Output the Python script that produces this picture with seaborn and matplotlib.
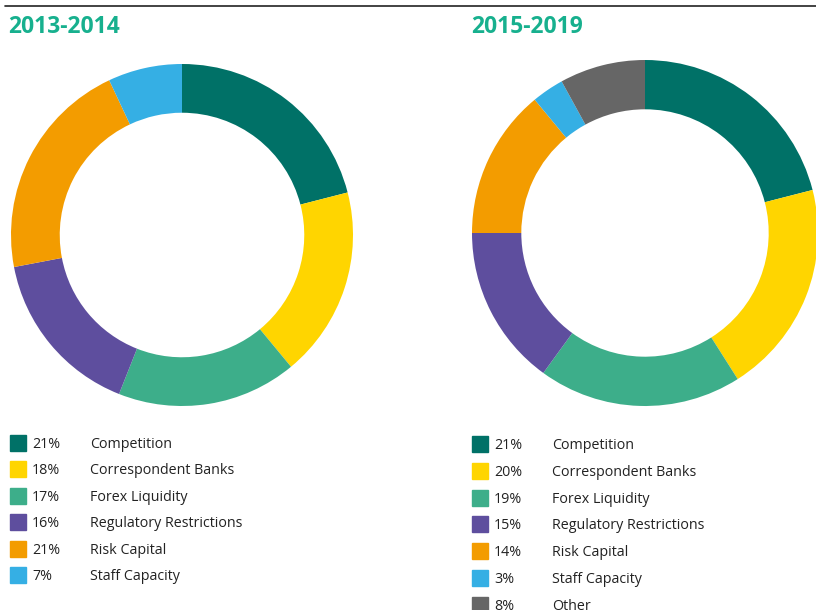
import matplotlib
matplotlib.use("Agg")
import matplotlib.pyplot as plt
import seaborn as sns
from matplotlib.patches import Rectangle
from matplotlib.lines import Line2D

sns.set_style("white")
plt.rcParams["font.family"] = ["Open Sans", "DejaVu Sans"]

# data
categories_a = ["Competition", "Correspondent Banks", "Forex Liquidity",
                "Regulatory Restrictions", "Risk Capital", "Staff Capacity"]
values_a = [21, 18, 17, 16, 21, 7]
categories_b = ["Competition", "Correspondent Banks", "Forex Liquidity",
                "Regulatory Restrictions", "Risk Capital", "Staff Capacity",
                "Other"]
values_b = [21, 20, 19, 15, 14, 3, 8]
titles = ["2013-2014", "2015-2019"]

colors = ["#007167", "#FFD500", "#3DAE8A", "#5E4E9E", "#F39C00",
          "#35AFE4", "#666666"]
title_color = "#17B08E"
text_color = "#222222"

W, H = 816, 610
fig = plt.figure(figsize=(W / 100, H / 100), dpi=100)


def px_axes(cx, cy, r):
    # square axes centred on (cx, cy) in pixel coords from top-left
    return fig.add_axes([(cx - r) / W, 1 - (cy + r) / H, 2 * r / W, 2 * r / H])


def donut(cx, cy, r, values, cols):
    ax = px_axes(cx, cy, r)
    ax.pie(values, colors=cols, startangle=90, counterclock=False,
           radius=1, wedgeprops=dict(width=0.285, edgecolor="white",
                                     linewidth=0))
    ax.set_xlim(-1, 1)
    ax.set_ylim(-1, 1)
    ax.set_aspect("equal")
    ax.axis("off")
    return ax


donut(182, 235, 171, values_a, colors[:len(values_a)])
donut(645, 233, 173, values_b, colors[:len(values_b)])

# top rule
fig.add_artist(Line2D([5 / W, 1], [1 - 6 / H, 1 - 6 / H],
                      color="#222222", lw=1.2))

# titles
fig.text(8 / W, 1 - 27 / H, titles[0], color=title_color, fontsize=16.5,
         fontweight="bold", va="center", ha="left")
fig.text(471 / W, 1 - 27 / H, titles[1], color=title_color, fontsize=16.5,
         fontweight="bold", va="center", ha="left")


def legend(x0, y0, step, cats, vals):
    for i, (c, v) in enumerate(zip(cats, vals)):
        y = y0 + i * step
        fig.add_artist(Rectangle((x0 / W, 1 - (y + 8) / H), 16 / W, 16 / H,
                                 color=colors[i], transform=fig.transFigure))
        fig.text((x0 + 22) / W, 1 - (y + 1.5) / H, f"{v}%", color=text_color,
                 fontsize=10.3, va="center", ha="left")
        fig.text((x0 + 80) / W, 1 - (y + 1.5) / H, c, color=text_color,
                 fontsize=10.3, va="center", ha="left")


legend(10, 443, 26.4, categories_a, values_a)
legend(472, 444, 26.8, categories_b, values_b)

fig.savefig("out.png", dpi=100, facecolor="white")
